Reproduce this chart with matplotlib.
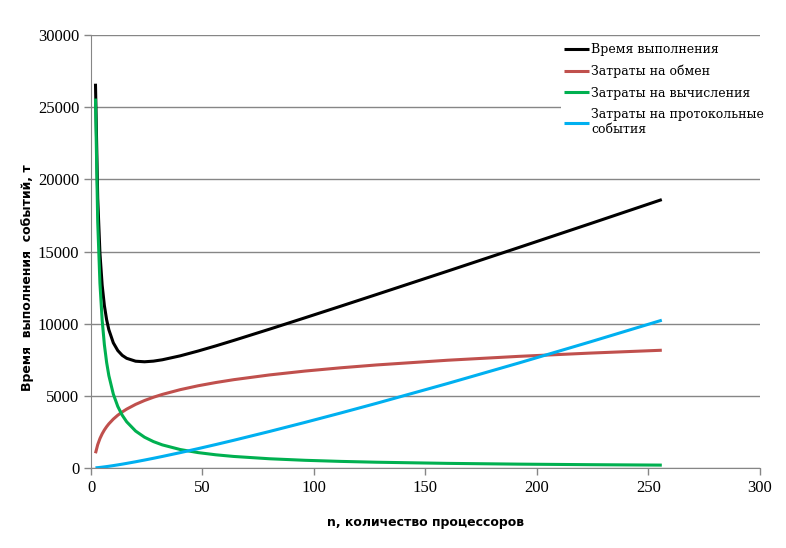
import matplotlib
matplotlib.use("Agg")
import matplotlib.pyplot as plt

# processors count and cost components
n = [2, 3, 4, 5, 6, 7, 8, 10, 12, 14, 16, 20, 24, 28, 32, 40, 48, 56, 64,
     80, 96, 112, 128, 160, 192, 224, 256]
t_total = [26630, 18708, 14880, 12666, 11248, 10275, 9580, 8674, 8139, 7806,
           7600, 7400, 7360, 7405, 7500, 7772, 8104, 8463, 8840, 9617, 10411,
           11212, 12020, 13646, 15286, 16936, 18600]
t_exchange = [1020, 1617, 2040, 2368, 2637, 2863, 3060, 3388, 3657, 3883,
              4080, 4408, 4677, 4903, 5100, 5428, 5697, 5923, 6120, 6448,
              6717, 6943, 7140, 7468, 7737, 7963, 8160]
t_compute = [25600, 17067, 12800, 10240, 8533, 7314, 6400, 5120, 4267, 3657,
             3200, 2560, 2133, 1829, 1600, 1280, 1067, 914, 800, 640, 533,
             457, 400, 320, 267, 229, 200]
t_protocol = [10, 24, 40, 58, 78, 98, 120, 166, 215, 266, 320, 432, 550, 673,
              800, 1064, 1340, 1626, 1920, 2529, 3161, 3812, 4480, 5858, 7282,
              8744, 10240]

labels = ["Время выполнения", "Затраты на обмен", "Затраты на вычисления",
          "Затраты на протокольные\nсобытия"]
colors = ["#000000", "#C0504D", "#00B050", "#00B0F0"]
GRID = "#868686"

fig = plt.figure(figsize=(7.86, 5.48), dpi=100)
ax = fig.add_axes([0.1158, 0.146, 0.851, 0.790])

for ys, lab, c in zip([t_total, t_exchange, t_compute, t_protocol], labels, colors):
    ax.plot(n, ys, color=c, lw=2.2, label=lab, solid_capstyle="butt")

ax.set_xlim(0, 300)
ax.set_ylim(0, 30000)
ax.set_xticks(range(0, 301, 50))
ax.set_yticks(range(0, 30001, 5000))
ax.yaxis.grid(True, color=GRID, lw=1)
ax.set_axisbelow(True)
for s in ("top", "right"):
    ax.spines[s].set_visible(False)
for s in ("left", "bottom"):
    ax.spines[s].set_color(GRID)
ax.tick_params(colors=GRID, length=5, width=1, labelcolor="black")
for lbl in ax.get_xticklabels() + ax.get_yticklabels():
    lbl.set_family("Liberation Serif")
    lbl.set_fontsize(12)

ax.set_xlabel("n, количество процессоров", fontsize=9, fontweight="bold",
              family="DejaVu Sans")
ax.xaxis.set_label_coords(0.5, -0.11)
ax.set_ylabel("Время  выполнения  событий, т", fontsize=9, fontweight="bold",
              family="DejaVu Sans")
ax.yaxis.set_label_coords(-0.085, 0.44)

leg = ax.legend(loc="upper left", bbox_to_anchor=(0.702, 0.99), frameon=True,
                prop={"family": "DejaVu Serif", "size": 9},
                handlelength=2.0, handletextpad=0.15, labelspacing=0.68,
                borderpad=0.3, borderaxespad=0)
leg.get_frame().set_facecolor("white")
leg.get_frame().set_edgecolor("none")
leg.get_frame().set_alpha(1)

fig.savefig("out.png", dpi=100, facecolor="white")
